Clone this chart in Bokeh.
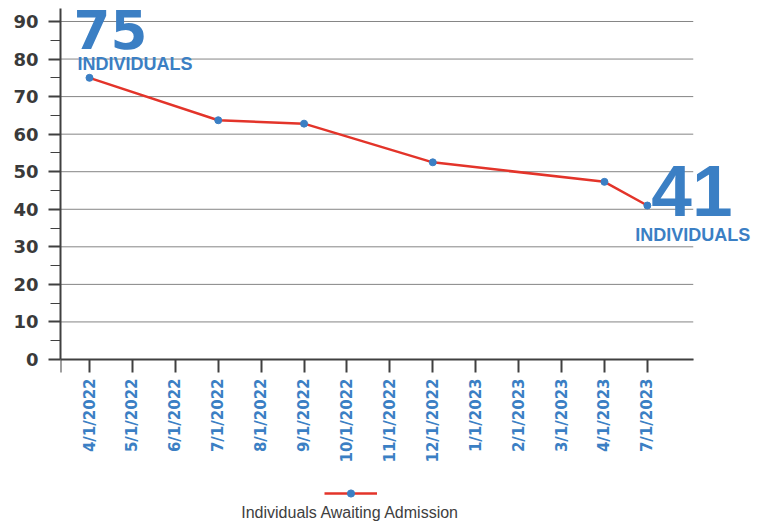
import math
from bokeh.plotting import figure
from bokeh.models import Range1d, FixedTicker, Label, Legend, LegendItem, ColumnDataSource
from bokeh.embed import file_html
from bokeh.resources import INLINE

# ---- data ----
categories = ["4/1/2022", "5/1/2022", "6/1/2022", "7/1/2022", "8/1/2022", "9/1/2022",
              "10/1/2022", "11/1/2022", "12/1/2022", "1/1/2023", "2/1/2023", "3/1/2023",
              "4/1/2023", "7/1/2023"]
point_dates = ["4/1/2022", "7/1/2022", "9/1/2022", "12/1/2022", "4/1/2023", "7/1/2023"]
awaiting = [75, 63.7, 62.8, 52.5, 47.3, 41]
y_ticks = [0, 10, 20, 30, 40, 50, 60, 70, 80, 90]
y_minor = [5, 15, 25, 35, 45, 55, 65, 75, 85]
series_name = "Individuals Awaiting Admission"
unit_word = "INDIVIDUALS"

BLUE = "#3b7fc4"
RED = "#e3342a"
DARK = "#404040"

# plot-area extents (layout, in axis units)
X_LO, X_HI, X_VIEW_HI = -0.676, 14.07, 15.80
Y_VIEW_LO, Y_AXIS_TOP, Y_VIEW_HI = -45.27, 93.46, 95.59

xs = [categories.index(d) for d in point_dates]
src = ColumnDataSource(dict(x=xs, y=awaiting))

p = figure(width=767, height=529, output_backend="svg", toolbar_location=None,
           x_range=Range1d(X_LO, X_VIEW_HI), y_range=Range1d(Y_VIEW_LO, Y_VIEW_HI),
           min_border_left=60, min_border_right=0, min_border_top=0, min_border_bottom=0)
p.outline_line_color = None
p.background_fill_color = "white"
p.xgrid.visible = False
p.ygrid.visible = False

# horizontal gridlines at the y ticks, limited to the axis extent
p.segment(x0=[X_LO] * len(y_ticks), x1=[X_HI] * len(y_ticks), y0=y_ticks, y1=y_ticks,
          line_color="#858585", line_width=1)

# y axis
p.yaxis.bounds = (0, Y_AXIS_TOP)
p.yaxis.ticker = FixedTicker(ticks=y_ticks, minor_ticks=y_minor)
p.yaxis.axis_line_color = DARK
p.yaxis.axis_line_width = 2
p.yaxis.major_tick_line_color = DARK
p.yaxis.major_tick_line_width = 2
p.yaxis.minor_tick_line_color = DARK
p.yaxis.minor_tick_line_width = 1
p.yaxis.major_tick_out = 12
p.yaxis.major_tick_in = 0
p.yaxis.minor_tick_out = 10
p.yaxis.minor_tick_in = 0
p.yaxis.major_label_standoff = 10
p.yaxis.major_label_text_font = "DejaVu Sans"
p.yaxis.major_label_text_font_style = "bold"
p.yaxis.major_label_text_font_size = "18px"
p.yaxis.major_label_text_color = "#3a3a3a"

# x axis, pinned at y = 0
p.xaxis.fixed_location = 0
p.xaxis.bounds = (X_LO, X_HI)
p.xaxis.ticker = FixedTicker(ticks=[X_LO] + list(range(len(categories))))
overrides = {i: c for i, c in enumerate(categories)}
overrides[X_LO] = ""
p.xaxis.major_label_overrides = overrides
p.xaxis.major_label_orientation = math.pi / 2
p.xaxis.axis_line_color = DARK
p.xaxis.axis_line_width = 2
p.xaxis.major_tick_line_color = DARK
p.xaxis.major_tick_line_width = 2
p.xaxis.major_tick_out = 13
p.xaxis.major_tick_in = 0
p.xaxis.minor_tick_line_color = None
p.xaxis.major_label_standoff = 6
p.xaxis.major_label_text_font = "DejaVu Sans"
p.xaxis.major_label_text_font_style = "bold"
p.xaxis.major_label_text_font_size = "15px"
p.xaxis.major_label_text_color = BLUE

# series
ln = p.line("x", "y", source=src, line_color=RED, line_width=2.5)
sc = p.scatter("x", "y", source=src, size=7, fill_color=BLUE, line_color=BLUE)

# value callouts
first_i, last_i = xs[0], xs[-1]
p.add_layout(Label(x=first_i, y=awaiting[0], x_offset=-16, y_offset=48.5,
                   text=str(int(round(awaiting[0]))), text_font="DejaVu Sans",
                   text_font_style="bold", text_font_size="53px", text_color=BLUE,
                   text_baseline="middle", text_align="left"))
p.add_layout(Label(x=first_i, y=awaiting[0], x_offset=-12, y_offset=14,
                   text=unit_word, text_font="Liberation Sans",
                   text_font_style="bold", text_font_size="18px", text_color=BLUE,
                   text_baseline="middle", text_align="left"))
p.add_layout(Label(x=last_i, y=awaiting[-1], x_offset=4, y_offset=15,
                   text=str(int(round(awaiting[-1]))), text_font="Liberation Sans",
                   text_font_style="bold", text_font_size="73px", text_color=BLUE,
                   text_baseline="middle", text_align="left"))
p.add_layout(Label(x=last_i, y=awaiting[-1], x_offset=-12, y_offset=-29.5,
                   text=unit_word, text_font="Liberation Sans",
                   text_font_style="bold", text_font_size="18px", text_color=BLUE,
                   text_baseline="middle", text_align="left"))

# legend: glyph sample, with the series name below it
legend_glyph = Legend(items=[LegendItem(label=" ", renderers=[ln, sc])],
                      location=(264, 27), padding=0, margin=0, spacing=0,
                      glyph_width=53, glyph_height=18, label_height=18,
                      label_standoff=0, label_width=0, label_text_font_size="4px",
                      border_line_color=None, background_fill_alpha=0)
p.add_layout(legend_glyph)
p.add_layout(Label(x=290, y=17, x_units="screen", y_units="screen", text=series_name,
                   text_font="Liberation Sans", text_font_size="16px",
                   text_color=DARK, text_align="center", text_baseline="middle"))

open("out.html", "w").write(file_html(p, INLINE))
